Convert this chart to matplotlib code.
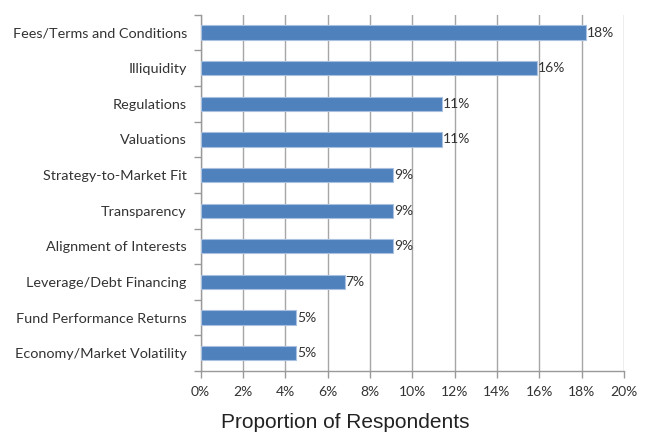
import matplotlib.pyplot as plt
import numpy as np

# survey data (top to bottom as shown)
categories = [
    "Fees/Terms and Conditions",
    "Illiquidity",
    "Regulations",
    "Valuations",
    "Strategy-to-Market Fit",
    "Transparency",
    "Alignment of Interests",
    "Leverage/Debt Financing",
    "Fund Performance Returns",
    "Economy/Market Volatility",
]
values = [18.2, 15.9, 11.4, 11.4, 9.1, 9.1, 9.1, 6.8, 4.5, 4.5]
labels = ["18%", "16%", "11%", "11%", "9%", "9%", "9%", "7%", "5%", "5%"]
xticks = np.arange(0, 21, 2)

plt.rcParams['font.family'] = ['Lato', 'DejaVu Sans']

fig = plt.figure(figsize=(6.52, 4.34), dpi=100)
ax = fig.add_axes([0.3078, 0.145, 0.957 - 0.3078, 0.966 - 0.145])

y = np.arange(len(categories))[::-1]
ax.barh(y, values, height=0.4, color="#4f81bd", edgecolor="#a9c0e0",
        linewidth=0.8, zorder=3)
for yi, v, lab in zip(y, values, labels):
    ax.text(v + 0.05, yi, lab, va="center", ha="left", fontsize=10,
            color="#333333", zorder=4)

ax.set_xlim(0, 20)
ax.set_ylim(-0.5, len(categories) - 0.5)
ax.set_xticks(xticks)
ax.set_xticklabels([f"{t}%" for t in xticks], fontsize=10, color="#333333")
ax.set_yticks(y)
ax.set_yticklabels(categories, fontsize=10.4, color="#333333")
ax.tick_params(axis="y", length=0, pad=10)
ax.set_yticks(np.arange(-0.5, len(categories), 1), minor=True)
ax.tick_params(axis="y", which="minor", length=5, color="#999999", width=1)
ax.tick_params(axis="x", length=5, color="#999999", width=1, pad=6)

ax.grid(axis="x", color="#a6a6a6", linewidth=1, zorder=0)
for s in ["top", "right"]:
    ax.spines[s].set_visible(False)
for s in ["left", "bottom"]:
    ax.spines[s].set_color("#999999")
    ax.spines[s].set_linewidth(1)

fig.text(345 / 652, 1 - 423 / 434, "Proportion of Respondents", ha="center",
         va="center", fontsize=15, family="Liberation Sans", color="#222222")

fig.savefig("out.png", dpi=100)
